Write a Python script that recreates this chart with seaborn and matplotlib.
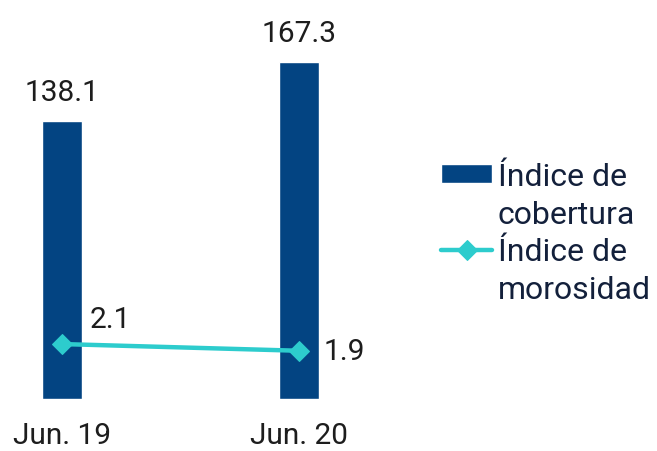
import matplotlib
matplotlib.use("Agg")
import matplotlib.pyplot as plt
from matplotlib.lines import Line2D
import numpy as np
import pandas as pd
import seaborn as sns

periods = ["Jun. 19", "Jun. 20"]
cobertura = [138.1, 167.3]
morosidad = [2.1, 1.9]
legend_lines = [["Índice de", "cobertura"], ["Índice de", "morosidad"]]

BAR_COLOR = "#034482"
LINE_COLOR = "#2dcccd"
TEXT_COLOR = "#1d1d1d"
LEGEND_TEXT = "#13203b"

sns.set_theme(style="white")
plt.rcParams["font.family"] = ["Roboto", "DejaVu Sans"]

W, H = 657, 452
fig = plt.figure(figsize=(W / 100, H / 100), dpi=100)
ax = fig.add_axes([2.75 / W, 52 / H, 355.5 / W, 362.5 / H])

df = pd.DataFrame({"period": periods, "cobertura": cobertura, "morosidad": morosidad})
sns.barplot(data=df, x="period", y="cobertura", color=BAR_COLOR, saturation=1,
            width=0.168, ax=ax)
ax.set_ylim(0, 180)
for p, v in zip(ax.patches, cobertura):
    ax.annotate(f"{v:.1f}", (p.get_x() + p.get_width() / 2, p.get_height()),
                xytext=(0, 11), textcoords="offset points", ha="center", va="bottom",
                fontsize=21.5, color=TEXT_COLOR)

ax2 = ax.twinx()
ax2.set_position(ax.get_position())
df["pos"] = np.arange(len(periods))
sns.lineplot(data=df, x="pos", y="morosidad", color=LINE_COLOR, linewidth=3.2,
             marker="D", markersize=10, markeredgecolor=LINE_COLOR, ax=ax2, legend=False)
ax2.set_ylim(0.46, 11.28)
ax2.annotate(f"{morosidad[0]:.1f}", (0, morosidad[0]), xytext=(20, 8),
             textcoords="offset points", ha="left", va="bottom", fontsize=21.5, color=TEXT_COLOR)
ax2.annotate(f"{morosidad[1]:.1f}", (1, morosidad[1]), xytext=(18, 0),
             textcoords="offset points", ha="left", va="center", fontsize=21.5, color=TEXT_COLOR)

for a in (ax, ax2):
    a.set_xlabel("")
    a.set_ylabel("")
    a.set_yticks([])
    for s in a.spines.values():
        s.set_visible(False)
ax.set_xlim(-0.25, 1.25)
ax.set_xticks([0, 1])
ax.set_xticklabels(periods, fontsize=21.5, color=TEXT_COLOR)
ax.tick_params(axis="x", length=0, pad=16)

# legend: one row per text line so the marks sit on the first line
bar_handle = ax.patches[0]
line_handle = ax2.get_lines()[0]
blank = Line2D([], [], alpha=0)
handles = [bar_handle, blank, line_handle, blank]
labels = [legend_lines[0][0], legend_lines[0][1], legend_lines[1][0], legend_lines[1][1]]
leg = fig.legend(handles, labels, loc="upper left", bbox_to_anchor=(441 / W, 1 - 163 / H),
                 frameon=False, fontsize=23, borderpad=0, handlelength=1.6,
                 handleheight=0.52, handletextpad=0.18, labelspacing=0.27, borderaxespad=0)
for t in leg.get_texts():
    t.set_color(LEGEND_TEXT)

fig.savefig("out.png", dpi=100)
